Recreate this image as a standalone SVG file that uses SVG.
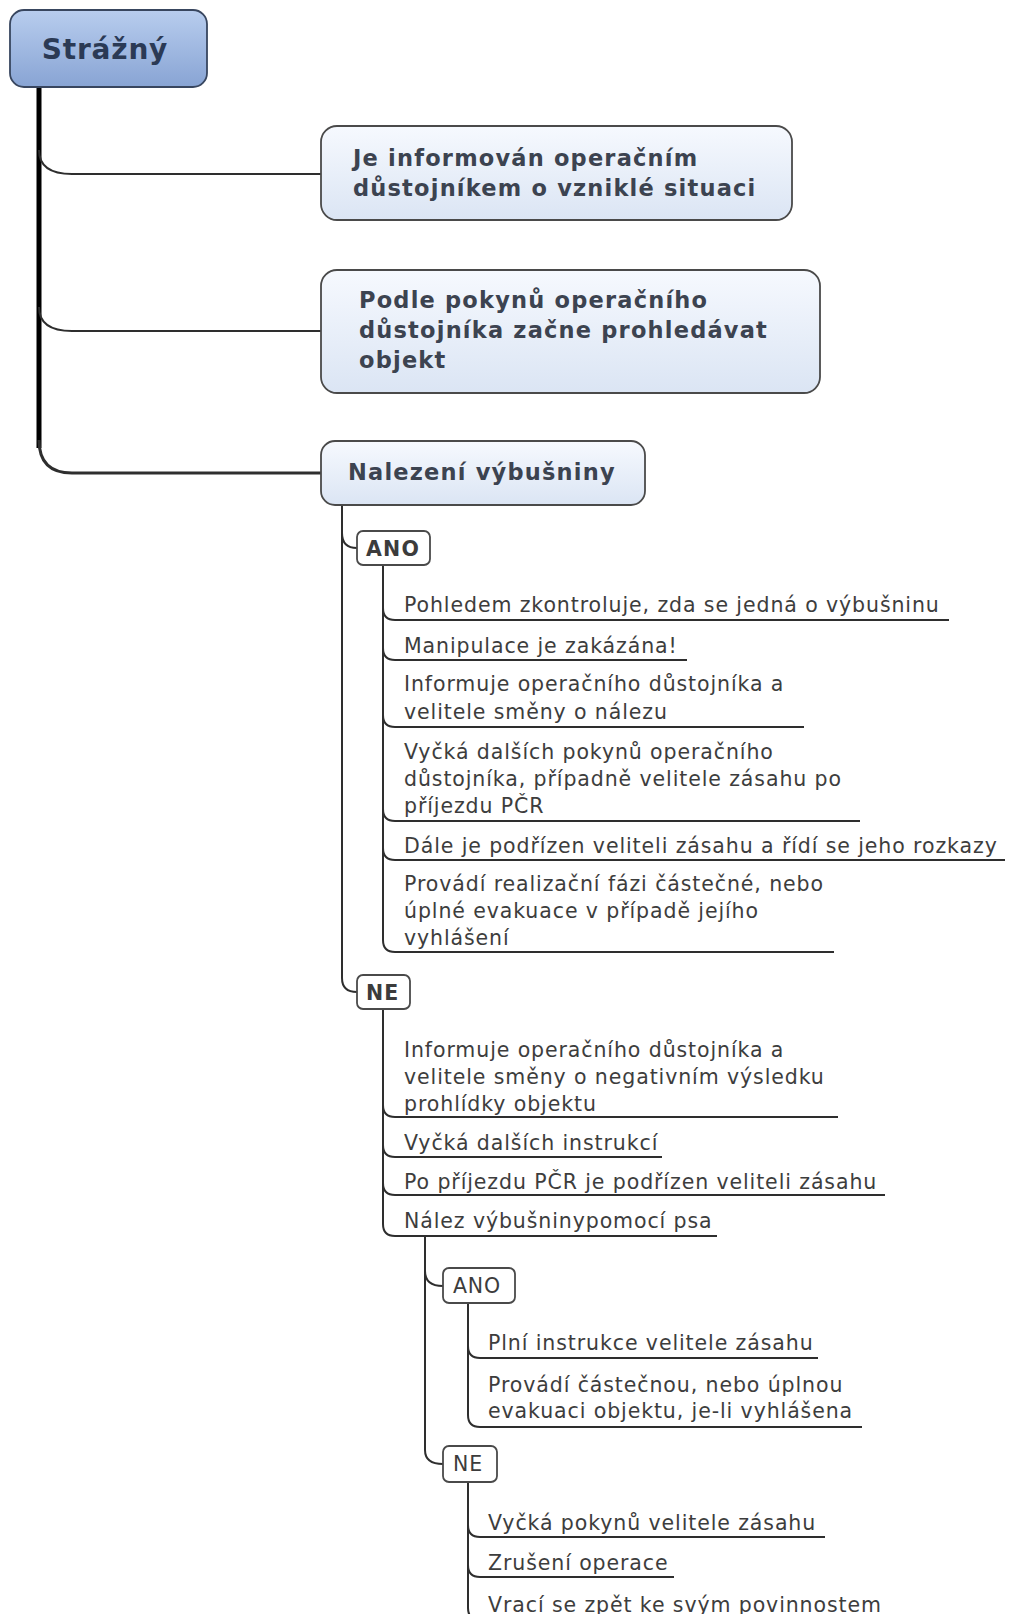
<svg xmlns="http://www.w3.org/2000/svg" width="1010" height="1614" viewBox="0 0 1010 1614">
<defs>
<linearGradient id="gRoot" x1="0" y1="0" x2="0" y2="1"><stop offset="0" stop-color="#b8cdee"/><stop offset="1" stop-color="#88a4d4"/></linearGradient>
<linearGradient id="gNode" x1="0" y1="0" x2="0" y2="1"><stop offset="0" stop-color="#f6f9fe"/><stop offset="1" stop-color="#dbe5f4"/></linearGradient>
</defs>
<style>
.root{fill:url(#gRoot);stroke:#38465f;stroke-width:1.8}
.rt{font-family:"DejaVu Sans",Verdana,sans-serif;font-weight:bold;font-size:28px;letter-spacing:0.8px;fill:#2b3a55}
.box{fill:url(#gNode);stroke:#4a4a4a;stroke-width:1.8}
.nt{font-family:"DejaVu Sans",Verdana,sans-serif;font-weight:bold;font-size:22.5px;letter-spacing:1.2px;fill:#3c4350}
.lb{fill:#fff;stroke:#4a4a4a;stroke-width:1.8}
.lt{font-family:"DejaVu Sans",Verdana,sans-serif;font-weight:bold;font-size:20.5px;letter-spacing:1.2px;fill:#3c3c3c}
.lt2{font-family:"DejaVu Sans",Verdana,sans-serif;font-size:20.5px;letter-spacing:0.8px;fill:#3c3c3c}
.it{font-family:"DejaVu Sans",Verdana,sans-serif;font-size:20.5px;letter-spacing:0.9px;fill:#3d3d3d}
.c{fill:none;stroke:#2e2e2e;stroke-width:2}
.trunk{fill:none;stroke:#000;stroke-width:5}
</style>

<g id="connectors">
<path class="trunk" d="M39 88 V448"/>
<path class="c" d="M39 150 Q39 174 72 174 H321"/>
<path class="c" d="M39 307 Q39 331 72 331 H321"/>
<path class="c" style="stroke-width:3" d="M39 440 Q39 473 72 473 H321"/>
<path class="c" d="M342 505 V978 Q342 992 357 992"/>
<path class="c" d="M342 533 Q342 548 357 548"/>
<path class="c" d="M383 565 V940 Q383 952 395 952 H834"/>
<path class="c" d="M383 608 Q383 620 395 620 H949"/>
<path class="c" d="M383 648 Q383 660 395 660 H687"/>
<path class="c" d="M383 715 Q383 727 395 727 H804"/>
<path class="c" d="M383 809 Q383 821 395 821 H860"/>
<path class="c" d="M383 848 Q383 860 395 860 H1005"/>
<path class="c" d="M383 1009 V1224 Q383 1236 395 1236 H717"/>
<path class="c" d="M383 1105 Q383 1117 395 1117 H838"/>
<path class="c" d="M383 1145 Q383 1157 395 1157 H662"/>
<path class="c" d="M383 1183 Q383 1195 395 1195 H885"/>
<path class="c" d="M425 1236 V1450 Q425 1464 443 1464"/>
<path class="c" d="M425 1271 Q425 1286 443 1286"/>
<path class="c" d="M468 1303 V1415 Q468 1427 480 1427 H862"/>
<path class="c" d="M468 1346 Q468 1358 480 1358 H818"/>
<path class="c" d="M468 1482 V1608 Q468 1620 480 1620 H900"/>
<path class="c" d="M468 1525 Q468 1537 480 1537 H825"/>
<path class="c" d="M468 1565 Q468 1577 480 1577 H674"/>
</g>

<g id="root">
<rect class="root" x="10" y="10" width="197" height="77" rx="14"/>
<text class="rt" x="105" y="59" text-anchor="middle">Strážný</text>
</g>

<g id="n1">
<rect class="box" x="321" y="126" width="471" height="94" rx="16"/>
<text class="nt" x="353" y="166">Je informován operačním</text>
<text class="nt" x="353" y="196">důstojníkem o vzniklé situaci</text>
</g>

<g id="n2">
<rect class="box" x="321" y="270" width="499" height="123" rx="16"/>
<text class="nt" x="359" y="308">Podle pokynů operačního</text>
<text class="nt" x="359" y="338">důstojníka začne prohledávat</text>
<text class="nt" x="359" y="368">objekt</text>
</g>

<g id="n3">
<rect class="box" x="321" y="441" width="324" height="64" rx="14"/>
<text class="nt" x="348" y="480">Nalezení výbušniny</text>
</g>

<g id="ano1">
<rect class="lb" x="357" y="531" width="73" height="34" rx="6"/>
<text class="lt" x="366" y="556">ANO</text>
</g>

<g id="a1"><text class="it" x="404" y="612">Pohledem zkontroluje, zda se jedná o výbušninu</text></g>
<g id="a2"><text class="it" x="404" y="653">Manipulace je zakázána!</text></g>
<g id="a3"><text class="it" x="404" y="691">Informuje operačního důstojníka a</text><text class="it" x="404" y="719">velitele směny o nálezu</text></g>
<g id="a4"><text class="it" x="404" y="759">Vyčká dalších pokynů operačního</text><text class="it" x="404" y="786">důstojníka, případně velitele zásahu po</text><text class="it" x="404" y="813">příjezdu PČR</text></g>
<g id="a5"><text class="it" x="404" y="853">Dále je podřízen veliteli zásahu a řídí se jeho rozkazy</text></g>
<g id="a6"><text class="it" x="404" y="891">Provádí realizační fázi částečné, nebo</text><text class="it" x="404" y="918">úplné evakuace v případě jejího</text><text class="it" x="404" y="945">vyhlášení</text></g>

<g id="ne1">
<rect class="lb" x="357" y="975" width="53" height="34" rx="6"/>
<text class="lt" x="366" y="1000">NE</text>
</g>

<g id="b1"><text class="it" x="404" y="1057">Informuje operačního důstojníka a</text><text class="it" x="404" y="1084">velitele směny o negativním výsledku</text><text class="it" x="404" y="1111">prohlídky objektu</text></g>
<g id="b2"><text class="it" x="404" y="1150">Vyčká dalších instrukcí</text></g>
<g id="b3"><text class="it" x="404" y="1189">Po příjezdu PČR je podřízen veliteli zásahu</text></g>
<g id="b4"><text class="it" x="404" y="1228">Nález výbušninypomocí psa</text></g>

<g id="ano2">
<rect class="lb" x="443" y="1268" width="72" height="35" rx="6"/>
<text class="lt2" x="453" y="1293">ANO</text>
</g>
<g id="c1"><text class="it" x="488" y="1350">Plní instrukce velitele zásahu</text></g>
<g id="c2"><text class="it" x="488" y="1392">Provádí částečnou, nebo úplnou</text><text class="it" x="488" y="1418">evakuaci objektu, je-li vyhlášena</text></g>

<g id="ne2">
<rect class="lb" x="443" y="1446" width="54" height="36" rx="6"/>
<text class="lt2" x="453" y="1471">NE</text>
</g>
<g id="d1"><text class="it" x="488" y="1530">Vyčká pokynů velitele zásahu</text></g>
<g id="d2"><text class="it" x="488" y="1570">Zrušení operace</text></g>
<g id="d3"><text class="it" x="488" y="1612">Vrací se zpět ke svým povinnostem</text></g>
</svg>
